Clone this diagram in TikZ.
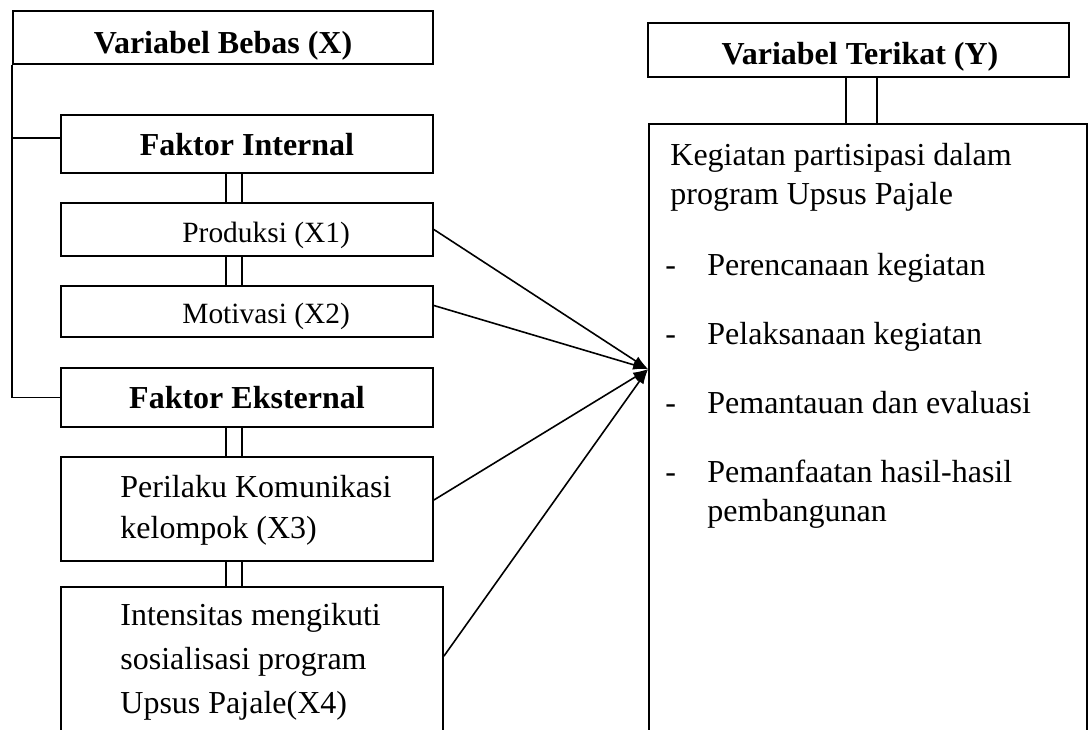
\documentclass[tikz,border=0pt]{standalone}
\usepackage{fontspec}
\setmainfont{Liberation Serif}
\usetikzlibrary{arrows.meta}
\tikzset{
  kotak/.style={draw, rectangle, line width=0.9pt, inner sep=0pt},
  teks/.style={inner sep=0pt, font=\fontsize{16pt}{19.5pt}\selectfont},
  judul/.style={inner sep=0pt, font=\fontsize{16pt}{19.5pt}\selectfont\bfseries},
  garis/.style={line width=0.8pt},
  panah/.style={line width=0.8pt, -{Latex[length=7.5pt,width=5pt]}}
}
\begin{document}
\begin{tikzpicture}[x=0.5pt, y=-0.5pt]
    \useasboundingbox (0,0) rectangle (1090,729);
    \clip (0,0) rectangle (1090,729);
    %kotak kiri
    \node[kotak, minimum width=210pt, minimum height=26.5pt] (bebas) at (223,37.5) {};
    \node[kotak, minimum width=186pt, minimum height=29pt] (intern) at (247,144) {};
    \node[kotak, minimum width=186pt, minimum height=26.5pt] (prod) at (247,229.5) {};
    \node[kotak, minimum width=186pt, minimum height=25.5pt] (motiv) at (247,311.5) {};
    \node[kotak, minimum width=186pt, minimum height=29.5pt] (ekst) at (247,397.5) {};
    \node[kotak, minimum width=186pt, minimum height=52pt] (peril) at (247,509) {};
    \node[kotak, minimum width=191pt, minimum height=106.5pt] (intens) at (252,693.5) {};
    %kotak kanan
    \node[kotak, minimum width=210.5pt, minimum height=27pt] (terikat) at (858.5,50) {};
    \node[kotak, minimum width=219pt, minimum height=363pt] (keg) at (868,487) {};

    %tulisan (base = baris terakhir)
    \node[judul, anchor=base] (t-bebas) at (223,53) {Variabel Bebas (X)};
    \node[judul, anchor=base] (t-intern) at (247,155) {Faktor Internal};
    \node[teks, font=\fontsize{14.7pt}{17pt}\selectfont, anchor=base west] (t-prod) at (182,242) {Produksi (X1)};
    \node[teks, font=\fontsize{14.7pt}{17pt}\selectfont, anchor=base west] (t-motiv) at (182,323) {Motivasi (X2)};
    \node[judul, anchor=base] (t-ekst) at (247,408) {Faktor Eksternal};
    \node[teks, font=\fontsize{16pt}{20.5pt}\selectfont, align=left, anchor=base west] (t-peril) at (120,538) {Perilaku Komunikasi\\kelompok (X3)};
    \node[teks, font=\fontsize{16pt}{22pt}\selectfont, align=left, anchor=base west] (t-intens) at (120,713) {Intensitas mengikuti\\sosialisasi program\\Upsus Pajale(X4)};
    \node[judul, anchor=base] (t-terikat) at (860,64) {Variabel Terikat (Y)};
    \node[teks, align=left, anchor=base west] (t-keg) at (670,204) {Kegiatan partisipasi dalam\\program Upsus Pajale};
    \foreach \y/\yb/\isi [count=\i] in {275/275/Perencanaan kegiatan, 344/344/Pelaksanaan kegiatan, 413/413/Pemantauan dan evaluasi, 482/521/{Pemanfaatan hasil-hasil\\pembangunan}} {
        \node[teks, anchor=base west] (strip-\i) at (665,\y) {-};
        \node[teks, align=left, anchor=base west] (butir-\i) at (707,\yb) {\isi};
    }

    %garis kiri
    \draw[garis] (bebas.south west) |- (ekst.west);
    \draw[garis] ([yshift=3pt]intern.west) -| (bebas.south west);
    %garis ganda
    \foreach \a/\b in {intern/prod, prod/motiv, ekst/peril, peril/intens}
        \foreach \dx in {-10.5pt, -2.5pt}
            \draw[garis] ([xshift=\dx]\a.south) -- ([xshift=\dx]\a.south |- \b.north);
    \foreach \dx in {-6.25pt, 9.25pt}
        \draw[garis] ([xshift=\dx]terikat.south) -- ([xshift=\dx]terikat.south |- keg.north);

    %panah
    \coordinate (tip) at ([yshift=-123pt]keg.north west);
    \draw[panah] (prod.east) -- (tip);
    \draw[panah] ([yshift=3pt]motiv.east) -- (tip);
    \draw[panah] ([yshift=4.5pt]peril.east) -- (tip);
    \draw[panah] ([yshift=-35pt]intens.north east) -- (tip);
\end{tikzpicture}
\end{document}
